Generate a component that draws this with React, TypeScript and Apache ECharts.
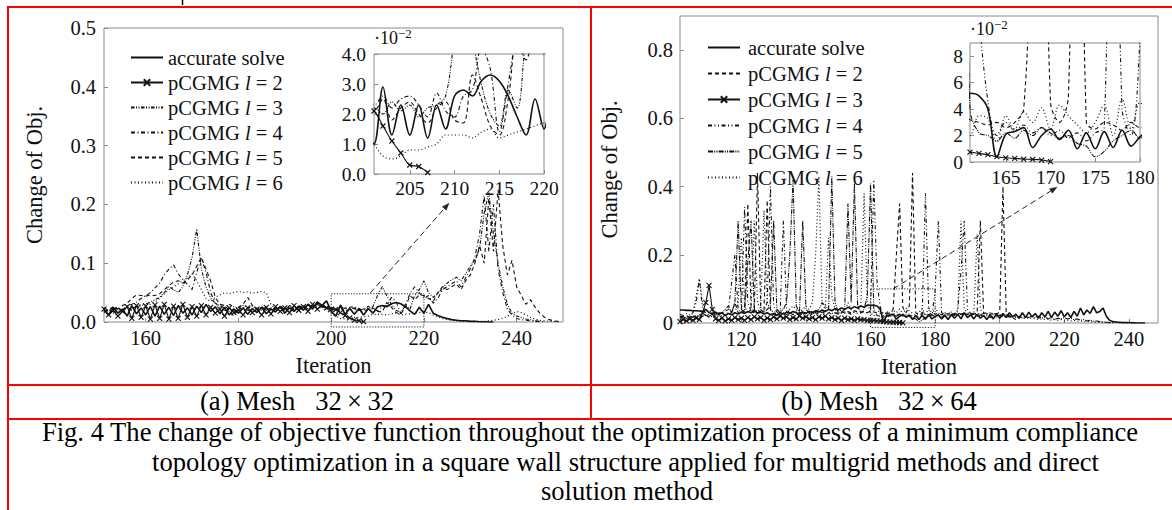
import React, { useEffect, useRef } from "react";
import * as echarts from "echarts";

const FONT = "Liberation Serif";
const INK = "#111";
const AXIS_GRAY = "#8a8a8a";
const RED = "#ff0000";

// ---------------- data ----------------
const SERIES_NAMES = [
  "accurate solve",
  "pCGMG l = 2",
  "pCGMG l = 3",
  "pCGMG l = 4",
  "pCGMG l = 5",
  "pCGMG l = 6",
];

// Panel (a) Mesh 32x32, iterations start at 151
const A_START = 151;
const A_ACC = [
  0.020, 0.012, 0.025, 0.015, 0.022, 0.010, 0.028, 0.014, 0.024, 0.012,
  0.026, 0.010, 0.027, 0.013, 0.025, 0.011, 0.028, 0.015, 0.024, 0.012,
  0.027, 0.016, 0.030, 0.018, 0.026, 0.014, 0.025, 0.012, 0.022, 0.015,
  0.024, 0.013, 0.023, 0.016, 0.025, 0.014, 0.022, 0.017, 0.026, 0.015,
  0.024, 0.018, 0.027, 0.020, 0.030, 0.022, 0.034, 0.028, 0.036, 0.018,
  0.010, 0.029, 0.013, 0.023, 0.013, 0.023, 0.012, 0.023, 0.015, 0.026,
  0.028, 0.026, 0.031, 0.033, 0.031, 0.026, 0.019, 0.013, 0.025, 0.015,
  0.030, 0.015, 0.011, 0.008, 0.006, 0.004, 0.003, 0.002, 0.002, 0.001,
  0.001, 0.0005, 0.0003, 0.0001, 0,
];
const A_L2 = [
  0.022, 0.012, 0.020, 0.010, 0.018, 0.026, 0.006, 0.028, 0.008, 0.027,
  0.005, 0.029, 0.006, 0.030, 0.005, 0.027, 0.006, 0.030, 0.008, 0.026,
  0.010, 0.028, 0.012, 0.025, 0.015, 0.022, 0.010, 0.024, 0.016, 0.020,
  0.012, 0.024, 0.016, 0.022, 0.012, 0.025, 0.014, 0.026, 0.018, 0.024,
  0.016, 0.028, 0.020, 0.026, 0.018, 0.030, 0.022, 0.028, 0.024, 0.022,
  0.021, 0.016, 0.011, 0.007, 0.003, 0.0025, 0.0005,
];
const A_L3 = [
  0.018, 0.020, 0.015, 0.022, 0.018, 0.025, 0.020, 0.026, 0.028, 0.030,
  0.034, 0.038, 0.042, 0.050, 0.060, 0.055, 0.050, 0.060, 0.080, 0.110,
  0.158, 0.090, 0.060, 0.040, 0.032, 0.028, 0.024, 0.030, 0.026, 0.024,
  0.028, 0.024, 0.027, 0.021, 0.025, 0.020, 0.024, 0.022, 0.026, 0.020,
  0.025, 0.022, 0.028, 0.024, 0.030, 0.026, 0.032, 0.028, 0.025, 0.021,
  0.022, 0.020, 0.024, 0.021, 0.023, 0.019, 0.022, 0.023, 0.026, 0.045,
  0.060, 0.045, 0.030, 0.020, 0.016, 0.028, 0.022, 0.045, 0.055, 0.070,
  0.050, 0.042, 0.048, 0.058, 0.066, 0.072, 0.076, 0.070, 0.082, 0.095,
  0.105, 0.125, 0.185, 0.220, 0.150, 0.100, 0.060, 0.030, 0.015, 0.010,
  0.008, 0.005, 0.004, 0.002, 0.001,
];
const A_L4 = [
  0.020, 0.018, 0.022, 0.025, 0.020, 0.028, 0.030, 0.034, 0.040, 0.045,
  0.050, 0.058, 0.066, 0.080, 0.090, 0.097, 0.082, 0.072, 0.064, 0.055,
  0.085, 0.108, 0.085, 0.050, 0.032, 0.025, 0.020, 0.018, 0.022, 0.015,
  0.025, 0.020, 0.018, 0.024, 0.020, 0.026, 0.022, 0.018, 0.025, 0.020,
  0.028, 0.024, 0.020, 0.026, 0.022, 0.028, 0.025, 0.030, 0.022, 0.024,
  0.023, 0.026, 0.022, 0.025, 0.026, 0.023, 0.019, 0.027, 0.021, 0.019,
  0.026, 0.028, 0.042, 0.035, 0.014, 0.030, 0.048, 0.060, 0.050, 0.040,
  0.045, 0.032, 0.040, 0.055, 0.060, 0.065, 0.070, 0.060, 0.075, 0.090,
  0.110, 0.150, 0.215, 0.120, 0.200, 0.090, 0.050, 0.022, 0.012, 0.006,
  0.004, 0.003, 0.002, 0.001, 0.001, 0,
];
const A_L5 = [
  0.024, 0.020, 0.026, 0.022, 0.028, 0.032, 0.040, 0.046, 0.045, 0.044,
  0.046, 0.045, 0.048, 0.055, 0.062, 0.068, 0.070, 0.066, 0.072, 0.080,
  0.095, 0.110, 0.090, 0.070, 0.042, 0.030, 0.028, 0.020, 0.010, 0.025,
  0.030, 0.042, 0.028, 0.022, 0.026, 0.020, 0.024, 0.021, 0.027, 0.022,
  0.026, 0.020, 0.024, 0.028, 0.022, 0.026, 0.030, 0.025, 0.028, 0.023,
  0.021, 0.025, 0.018, 0.022, 0.024, 0.020, 0.017, 0.022, 0.024, 0.018,
  0.017, 0.033, 0.025, 0.016, 0.013, 0.025, 0.045, 0.038, 0.046, 0.045,
  0.040, 0.035, 0.050, 0.060, 0.055, 0.060, 0.065, 0.055, 0.070, 0.080,
  0.100, 0.130, 0.100, 0.210, 0.120, 0.225, 0.130, 0.080, 0.105, 0.060,
  0.045, 0.030, 0.038, 0.025, 0.015, 0.008, 0.004, 0.002, 0.001,
];
const A_L6 = [
  0.016, 0.022, 0.018, 0.024, 0.020, 0.026, 0.022, 0.028, 0.030, 0.032,
  0.030, 0.034, 0.040, 0.048, 0.055, 0.060, 0.065, 0.070, 0.075, 0.082,
  0.070, 0.055, 0.040, 0.035, 0.042, 0.046, 0.050, 0.048, 0.050, 0.052,
  0.050, 0.051, 0.049, 0.050, 0.052, 0.050, 0.030, 0.022, 0.026, 0.020,
  0.024, 0.020, 0.026, 0.022, 0.028, 0.024, 0.030, 0.026, 0.020, 0.014,
  0.010, 0.006, 0.005, 0.006, 0.008, 0.008, 0.009, 0.010, 0.013, 0.013,
  0.013, 0.012, 0.014, 0.015, 0.012, 0.013, 0.014, 0.015, 0.016, 0.017,
  0.016, 0.012, 0.009, 0.006, 0.004, 0.003, 0.002, 0.001, 0.001, 0.001,
  0.001, 0.001, 0.001, 0.002, 0.003, 0.004, 0.006, 0.010, 0.014, 0.018,
  0.016, 0.012, 0.008, 0.005, 0.003, 0.002, 0.001, 0.001, 0.0005,
];

// Panel (b) Mesh 32x64, iterations start at 101
const B_START = 101;
const B_ACC = [
  0.038, 0.038, 0.037, 0.037, 0.036, 0.036, 0.035, 0.034, 0.040, 0.030,
  0.028, 0.032, 0.025, 0.030, 0.022, 0.028, 0.024, 0.030, 0.026, 0.032,
  0.028, 0.034, 0.030, 0.036, 0.028, 0.032, 0.026, 0.030, 0.024, 0.028,
  0.022, 0.030, 0.026, 0.032, 0.028, 0.034, 0.030, 0.026, 0.032, 0.028,
  0.034, 0.030, 0.036, 0.032, 0.038, 0.034, 0.040, 0.036, 0.042, 0.038,
  0.044, 0.040, 0.046, 0.042, 0.048, 0.044, 0.050, 0.046, 0.052, 0.052,
  0.052, 0.050, 0.040, 0.004, 0.021, 0.023, 0.026, 0.011, 0.020, 0.025,
  0.017, 0.024, 0.010, 0.022, 0.010, 0.023, 0.011, 0.024, 0.012, 0.019,
  0.024, 0.012, 0.022, 0.010, 0.024, 0.014, 0.026, 0.012, 0.030, 0.016,
  0.024, 0.012, 0.026, 0.014, 0.022, 0.010, 0.024, 0.012, 0.026, 0.014,
  0.028, 0.016, 0.030, 0.018, 0.026, 0.014, 0.030, 0.016, 0.032, 0.018,
  0.028, 0.014, 0.030, 0.018, 0.034, 0.016, 0.032, 0.020, 0.036, 0.018,
  0.030, 0.016, 0.034, 0.020, 0.044, 0.024, 0.038, 0.028, 0.048, 0.030,
  0.034, 0.044, 0.020, 0.008, 0.004, 0.003, 0.002, 0.001, 0.001, 0.001,
  0.0005, 0.0003, 0.0002, 0.0001, 0,
];
const B_L2 = [
  0.020, 0.018, 0.022, 0.016, 0.020, 0.018, 0.024, 0.020, 0.022, 0.018,
  0.024, 0.020, 0.030, 0.025, 0.022, 0.028, 0.030, 0.060, 0.030, 0.025,
  0.040, 0.350, 0.050, 0.030, 0.440, 0.040, 0.030, 0.360, 0.040, 0.025,
  0.030, 0.022, 0.028, 0.025, 0.030, 0.024, 0.028, 0.022, 0.030, 0.026,
  0.028, 0.024, 0.030, 0.026, 0.032, 0.028, 0.030, 0.026, 0.030, 0.028,
  0.032, 0.030, 0.034, 0.030, 0.036, 0.032, 0.030, 0.034, 0.030, 0.036,
  0.032, 0.030, 0.028, 0.030, 0.026, 0.030, 0.040, 0.200, 0.350, 0.045,
  0.030, 0.050, 0.440, 0.030, 0.025, 0.030, 0.028, 0.024, 0.030, 0.026,
  0.028, 0.024, 0.030, 0.026, 0.028, 0.024, 0.030, 0.026, 0.028, 0.024,
  0.030, 0.026, 0.030, 0.300, 0.030, 0.028, 0.024, 0.030, 0.026, 0.032,
  0.400, 0.030, 0.020, 0.015, 0.010,
];
const B_L3 = [
  0.004, 0.010, 0.006, 0.012, 0.008, 0.014, 0.010, 0.030, 0.060, 0.110,
  0.040, 0.012, 0.008, 0.014, 0.006, 0.012, 0.008, 0.016, 0.010, 0.014,
  0.008, 0.016, 0.010, 0.018, 0.012, 0.016, 0.008, 0.014, 0.010, 0.018,
  0.012, 0.020, 0.014, 0.018, 0.010, 0.016, 0.012, 0.020, 0.014, 0.018,
  0.012, 0.016, 0.010, 0.018, 0.014, 0.020, 0.012, 0.016, 0.010, 0.014,
  0.008, 0.014, 0.010, 0.012, 0.008, 0.012, 0.010, 0.010, 0.008, 0.008,
  0.0075, 0.0065, 0.0055, 0.0040, 0.0032, 0.0027, 0.0022, 0.0020, 0.0015, 0.0003,
];
const B_L4 = [
  0.025, 0.022, 0.028, 0.024, 0.030, 0.060, 0.130, 0.040, 0.028, 0.024,
  0.030, 0.026, 0.032, 0.028, 0.034, 0.040, 0.120, 0.200, 0.040, 0.030,
  0.340, 0.060, 0.035, 0.030, 0.040, 0.030, 0.035, 0.060, 0.400, 0.050,
  0.032, 0.028, 0.300, 0.040, 0.030, 0.026, 0.032, 0.028, 0.034, 0.030,
  0.036, 0.032, 0.028, 0.034, 0.030, 0.036, 0.032, 0.028, 0.030, 0.026,
  0.032, 0.028, 0.030, 0.026, 0.032, 0.028, 0.030, 0.034, 0.030, 0.032,
  0.420, 0.120, 0.046, 0.020, 0.030, 0.024, 0.028, 0.022, 0.026, 0.020,
  0.024, 0.018, 0.022, 0.016, 0.022, 0.026, 0.380, 0.040, 0.020, 0.095,
  0.300, 0.030, 0.026, 0.030, 0.028, 0.026, 0.040, 0.150, 0.300, 0.040,
  0.028, 0.026, 0.030, 0.024, 0.028, 0.026, 0.030, 0.026, 0.028, 0.024,
  0.022, 0.020, 0.018, 0.015, 0.012,
];
const B_L5 = [
  0.015, 0.018, 0.014, 0.020, 0.016, 0.022, 0.018, 0.020, 0.024, 0.020,
  0.026, 0.022, 0.028, 0.030, 0.040, 0.050, 0.030, 0.060, 0.300, 0.040,
  0.030, 0.180, 0.300, 0.040, 0.030, 0.035, 0.030, 0.040, 0.050, 0.300,
  0.040, 0.030, 0.040, 0.060, 0.200, 0.420, 0.050, 0.030, 0.300, 0.040,
  0.030, 0.026, 0.032, 0.040, 0.060, 0.050, 0.040, 0.430, 0.060, 0.030,
  0.028, 0.040, 0.350, 0.060, 0.410, 0.050, 0.030, 0.040, 0.080, 0.410,
  0.040, 0.022, 0.020, 0.016, 0.022, 0.018, 0.024, 0.020, 0.026, 0.022,
  0.018, 0.020, 0.014, 0.012, 0.004, 0.008, 0.016, 0.020, 0.024, 0.018,
  0.022, 0.018, 0.024, 0.020, 0.026, 0.022, 0.028, 0.024, 0.030, 0.026,
  0.022, 0.026, 0.020, 0.024, 0.018, 0.022, 0.016, 0.020, 0.018, 0.022,
  0.020, 0.024, 0.018, 0.022, 0.016, 0.020, 0.014, 0.018, 0.016, 0.020,
  0.016, 0.020, 0.014, 0.018, 0.012, 0.016, 0.010, 0.014, 0.012, 0.016,
  0.012, 0.014, 0.010, 0.012, 0.008, 0.010, 0.006, 0.008, 0.005, 0.006,
  0.004, 0.003, 0.002, 0.001, 0,
];
const B_L6 = [
  0.010, 0.014, 0.012, 0.016, 0.030, 0.080, 0.130, 0.060, 0.020, 0.016,
  0.020, 0.018, 0.022, 0.020, 0.024, 0.030, 0.040, 0.030, 0.060, 0.250,
  0.050, 0.030, 0.040, 0.300, 0.060, 0.040, 0.330, 0.060, 0.040, 0.030,
  0.036, 0.040, 0.030, 0.035, 0.040, 0.050, 0.040, 0.030, 0.040, 0.050,
  0.040, 0.060, 0.200, 0.430, 0.060, 0.040, 0.250, 0.080, 0.040, 0.030,
  0.040, 0.030, 0.060, 0.040, 0.030, 0.040, 0.050, 0.380, 0.060, 0.030,
  0.020, 0.035, 0.033, 0.015, 0.035, 0.025, 0.038, 0.030, 0.041, 0.025,
  0.043, 0.035, 0.028, 0.022, 0.030, 0.043, 0.020, 0.048, 0.025, 0.045,
  0.030, 0.024, 0.030, 0.026, 0.032, 0.028, 0.034, 0.300, 0.040, 0.030,
  0.026, 0.030, 0.260, 0.040, 0.030, 0.026, 0.030, 0.024, 0.028, 0.022,
  0.020, 0.018, 0.022, 0.016, 0.020, 0.014, 0.018, 0.012, 0.016, 0.012,
  0.014, 0.010, 0.012, 0.010, 0.012, 0.008, 0.010, 0.008, 0.010, 0.006,
  0.008, 0.006, 0.008, 0.005, 0.006, 0.004, 0.005, 0.003, 0.004, 0.002,
  0.003, 0.002, 0.002, 0.001, 0.001, 0.001, 0.0005, 0.0005, 0.0002, 0,
];

// ticks
const A_XTICKS = [160, 180, 200, 220, 240];
const A_YTICKS = [0, 0.1, 0.2, 0.3, 0.4, 0.5];
const A_INSET_XTICKS = [205, 210, 215, 220];
const A_INSET_YTICKS = [0, 0.01, 0.02, 0.03, 0.04];
const B_XTICKS = [120, 140, 160, 180, 200, 220, 240];
const B_YTICKS = [0, 0.2, 0.4, 0.6, 0.8];
const B_INSET_XTICKS = [165, 170, 175, 180];
const B_INSET_YTICKS = [0, 0.02, 0.04, 0.06, 0.08];

// zoom boxes and arrows [x0, y0, x1, y1] in data units
const A_ZOOM_BOX = [200, -0.0085, 220, 0.048];
const A_ARROW = [208.4, 0.049, 225.4, 0.202];
const B_ZOOM_BOX = [160, -0.013, 180, 0.1];
const B_ARROW = [167, 0.1, 217.7, 0.398];

// captions
const SUBCAPTION_A = "(a) Mesh   32\u2009\u00d7\u200932";
const SUBCAPTION_B = "(b) Mesh   32\u2009\u00d7\u200964";
const CAPTION_LINES = [
  "Fig. 4 The change of objective function throughout the optimization process of a minimum compliance",
  "topology optimization in a square wall structure applied for multigrid methods and direct",
  "solution method",
];

// ---------------- styles ----------------
type LineKind = { dash: "solid" | number[]; width: number; marker?: boolean };
const A_STYLES: LineKind[] = [
  { dash: "solid", width: 1.6 },
  { dash: "solid", width: 1.1, marker: true },
  { dash: [3.5, 1.5, 1, 1.5, 1, 1.5], width: 1.1 },
  { dash: [4, 2.5, 1, 2.5], width: 1.1 },
  { dash: [4, 3], width: 1.1 },
  { dash: [1, 2.5], width: 1.2 },
];
const B_STYLES: LineKind[] = [
  { dash: "solid", width: 1.6 },
  { dash: [4, 3], width: 1.1 },
  { dash: "solid", width: 1.1, marker: true },
  { dash: [4, 2.5, 1, 2.5, 1, 2.5], width: 1.1 },
  { dash: [5, 1.2, 1, 1.2, 1, 1.2], width: 1.1 },
  { dash: [1, 2.5], width: 1.2 },
];

const X_MARK = "path://M0,0L10,10M0,10L10,0";

function makeLine(name: string, start: number, values: number[], st: LineKind, idx: number, smooth: number | boolean) {
  return {
    type: "line",
    name,
    xAxisIndex: idx,
    yAxisIndex: idx,
    data: values.map((v, i) => [start + i, v]),
    symbol: st.marker ? X_MARK : "none",
    symbolSize: 5,
    showSymbol: !!st.marker,
    smooth,
    lineStyle: { color: INK, width: st.width, type: st.dash },
    itemStyle: { color: INK, borderColor: INK, borderWidth: 1.1 },
    emphasis: { disabled: true },
    silent: true,
    clip: true,
  };
}

function boxSeries(box: number[]) {
  return {
    type: "custom",
    xAxisIndex: 0,
    yAxisIndex: 0,
    clip: false,
    silent: true,
    z: 4,
    dimensions: ["x0", "y0", "x1", "y1"],
    encode: { x: [0, 2], y: [1, 3] },
    data: [box],
    renderItem: (_p: any, api: any) => {
      const a = api.coord([api.value(0), api.value(1)]);
      const b = api.coord([api.value(2), api.value(3)]);
      return {
        type: "rect",
        shape: {
          x: Math.min(a[0], b[0]),
          y: Math.min(a[1], b[1]),
          width: Math.abs(b[0] - a[0]),
          height: Math.abs(b[1] - a[1]),
        },
        style: { fill: "none", stroke: "#222", lineWidth: 1, lineDash: [1.2, 1.6] },
      };
    },
  };
}

function arrowSeries(arrow: number[]) {
  return {
    type: "custom",
    xAxisIndex: 0,
    yAxisIndex: 0,
    clip: false,
    silent: true,
    z: 4,
    dimensions: ["x0", "y0", "x1", "y1"],
    encode: { x: [0, 2], y: [1, 3] },
    data: [arrow],
    renderItem: (_p: any, api: any) => {
      const p0 = api.coord([api.value(0), api.value(1)]);
      const p1 = api.coord([api.value(2), api.value(3)]);
      const ang = Math.atan2(p1[1] - p0[1], p1[0] - p0[0]);
      const c = Math.cos(ang);
      const s = Math.sin(ang);
      const L = 7;
      const H = 2.6;
      const base = [p1[0] - L * c, p1[1] - L * s];
      const left = [base[0] + H * s, base[1] - H * c];
      const right = [base[0] - H * s, base[1] + H * c];
      return {
        type: "group",
        children: [
          {
            type: "line",
            shape: { x1: p0[0], y1: p0[1], x2: base[0], y2: base[1] },
            style: { stroke: "#222", lineWidth: 1, lineDash: [6, 3.5] },
          },
          {
            type: "polygon",
            shape: { points: [p1, left, right] },
            style: { fill: "#222", stroke: "#222", lineWidth: 0.5 },
          },
        ],
      };
    },
  };
}

type PanelCfg = {
  start: number;
  data: number[][];
  styles: LineKind[];
  main: any;
  inset: any;
  legend: any;
  yNameGap: number;
  zoomBox: number[];
  arrow: number[];
};

function buildPanel(cfg: PanelCfg) {
  const m = cfg.main;
  const ins = cfg.inset;
  const tick = (vals: number[] | undefined) => ({
    show: true,
    inside: true,
    length: 4,
    customValues: vals,
    lineStyle: { color: AXIS_GRAY, width: 1 },
  });
  const grid = [
    {
      left: m.left, top: m.top, width: m.width, height: m.height,
      show: true, borderColor: AXIS_GRAY, borderWidth: 1, backgroundColor: "transparent",
      containLabel: false, outerBoundsMode: "none",
    },
    {
      left: ins.left, top: ins.top, width: ins.width, height: ins.height,
      show: true, borderColor: AXIS_GRAY, borderWidth: 1, backgroundColor: "#fff",
      containLabel: false, outerBoundsMode: "none",
    },
  ];
  const xAxis = [
    {
      type: "value", gridIndex: 0, min: m.xmin, max: m.xmax,
      axisLine: { show: false }, splitLine: { show: false },
      axisTick: tick(m.xticks),
      axisLabel: { customValues: m.xticks, fontSize: 20.5, fontFamily: FONT, color: INK, margin: 5 },
      name: "Iteration", nameLocation: "middle", nameGap: 32,
      nameTextStyle: { fontSize: 22.5, fontFamily: FONT, color: INK },
    },
    {
      type: "value", gridIndex: 1, min: ins.xmin, max: ins.xmax,
      axisLine: { show: false }, splitLine: { show: false },
      axisTick: tick(ins.xticks),
      axisLabel: { customValues: ins.xticks, fontSize: 19.5, fontFamily: FONT, color: INK, margin: ins.xMargin },
    },
  ];
  const yAxis = [
    {
      type: "value", gridIndex: 0, min: 0, max: m.ymax,
      axisLine: { show: false }, splitLine: { show: false },
      axisTick: tick(m.yticks),
      axisLabel: {
        customValues: m.yticks, fontSize: 20.5, fontFamily: FONT, color: INK, margin: m.yMargin,
        formatter: m.yfmt,
      },
      name: "Change of Obj.", nameLocation: "middle", nameGap: cfg.yNameGap,
      nameTextStyle: { fontSize: 22.5, fontFamily: FONT, color: INK },
    },
    {
      type: "value", gridIndex: 1, min: 0, max: ins.ymax,
      axisLine: { show: false }, splitLine: { show: false },
      axisTick: tick(ins.yticks),
      axisLabel: {
        customValues: ins.yticks, fontSize: 19.5, fontFamily: FONT, color: INK, margin: ins.yMargin,
        formatter: ins.yfmt,
      },
      name: "{b|\u00b710}{s|\u22122}", nameLocation: "end", nameGap: ins.nameGap,
      nameTextStyle: {
        align: "left", verticalAlign: "bottom", color: INK, fontFamily: FONT,
        rich: {
          b: { fontSize: 18, fontFamily: FONT, color: INK, lineHeight: 20, verticalAlign: "bottom" },
          s: { fontSize: 13, fontFamily: FONT, color: INK, lineHeight: 20, verticalAlign: "top" },
        },
      },
    },
  ];
  const series: any[] = [];
  cfg.data.forEach((vals, i) => series.push(makeLine(SERIES_NAMES[i], cfg.start, vals, cfg.styles[i], 0, false)));
  cfg.data.forEach((vals, i) => series.push(makeLine(SERIES_NAMES[i], cfg.start, vals, cfg.styles[i], 1, 0.35)));
  series.push(boxSeries(cfg.zoomBox));
  series.push(arrowSeries(cfg.arrow));
  const legend = {
    orient: "vertical",
    left: cfg.legend.left,
    top: cfg.legend.top,
    itemWidth: 32,
    itemHeight: 8,
    itemGap: cfg.legend.gap,
    selectedMode: false,
    data: SERIES_NAMES.map((n, i) =>
      cfg.styles[i].marker
        ? { name: n }
        : { name: n, itemStyle: { opacity: 0, color: "transparent", borderColor: "transparent", borderWidth: 0 } }
    ),
    formatter: (n: string) => n.replace(" l = ", " {i|l} = "),
    textStyle: {
      fontFamily: FONT, fontSize: 20.5, color: INK, lineHeight: 20,
      padding: [0, 0, 0, cfg.legend.pad],
      rich: { i: { fontStyle: "italic", fontFamily: FONT, fontSize: 20.5, color: INK, lineHeight: 20 } },
    },
  };
  return { grid, xAxis, yAxis, series, legend };
}

const panelA = buildPanel({
  start: A_START,
  data: [A_ACC, A_L2, A_L3, A_L4, A_L5, A_L6],
  styles: A_STYLES,
  main: {
    left: 104, top: 28, width: 459, height: 294, xmin: 151, xmax: 250, ymax: 0.5,
    xticks: A_XTICKS, yticks: A_YTICKS, yMargin: 8,
    yfmt: (v: number) => v.toFixed(1),
  },
  inset: {
    left: 374, top: 54, width: 170, height: 120, xmin: 201, xmax: 220, ymax: 0.04,
    xticks: A_INSET_XTICKS, yticks: A_INSET_YTICKS, yMargin: 8, xMargin: 4, nameGap: 7,
    yfmt: (v: number) => (v * 100).toFixed(1),
  },
  legend: { left: 125, top: 42, gap: 4, pad: 0 },
  yNameGap: 58,
  zoomBox: A_ZOOM_BOX,
  arrow: A_ARROW,
});

const panelB = buildPanel({
  start: B_START,
  data: [B_ACC, B_L2, B_L3, B_L4, B_L5, B_L6],
  styles: B_STYLES,
  main: {
    left: 680, top: 16, width: 478, height: 307, xmin: 101, xmax: 249, ymax: 0.9,
    xticks: B_XTICKS, yticks: B_YTICKS, yMargin: 7,
    yfmt: (v: number) => (v === 0 ? "0" : v.toFixed(1)),
  },
  inset: {
    left: 970, top: 43, width: 170, height: 119, xmin: 161, xmax: 180, ymax: 0.09,
    xticks: B_INSET_XTICKS, yticks: B_INSET_YTICKS, yMargin: 7, xMargin: 5, nameGap: 5,
    yfmt: (v: number) => String(Math.round(v * 100)),
  },
  legend: { left: 702, top: 32, gap: 5, pad: 3 },
  yNameGap: 59,
  zoomBox: B_ZOOM_BOX,
  arrow: B_ARROW,
});

function redLine(x1: number, y1: number, x2: number, y2: number) {
  return { type: "line", silent: true, shape: { x1, y1, x2, y2 }, style: { stroke: RED, lineWidth: 2 } };
}
function captionText(text: string, x: number, y: number) {
  return {
    type: "text",
    silent: true,
    x,
    y,
    style: {
      text,
      fill: "#000",
      fontSize: 26.6,
      fontFamily: FONT,
      align: "center",
      verticalAlign: "middle",
      textAlign: "center",
      textVerticalAlign: "middle",
    },
  };
}

const optionA = {
  animation: false,
  textStyle: { fontFamily: FONT, color: INK },
  ...panelA,
  graphic: [
    redLine(7, 7, 1172, 7),
    redLine(8, 6, 8, 510),
    redLine(591, 6, 591, 419),
    redLine(8, 385, 1172, 385),
    redLine(8, 419, 1172, 419),
    { type: "line", silent: true, shape: { x1: 182.5, y1: 0, x2: 182.5, y2: 5 }, style: { stroke: "#000", lineWidth: 1.5 } },
    captionText(SUBCAPTION_A, 297, 401),
    captionText(SUBCAPTION_B, 879, 401),
    captionText(CAPTION_LINES[0], 590, 432),
    captionText(CAPTION_LINES[1], 625.5, 461.5),
    captionText(CAPTION_LINES[2], 627, 491),
  ],
};

const optionB = {
  animation: false,
  textStyle: { fontFamily: FONT, color: INK },
  ...panelB,
};

function ChartLayer({ option }: { option: any }) {
  const ref = useRef<HTMLDivElement>(null);
  useEffect(() => {
    if (!ref.current) return;
    const chart = echarts.init(ref.current, null, { renderer: "svg", width: 1172, height: 510 });
    chart.setOption(option);
    return () => chart.dispose();
  }, [option]);
  return <div ref={ref} style={{ position: "absolute", left: 0, top: 0, width: 1172, height: 510 }} />;
}

export default function App() {
  return (
    <div
      style={{
        position: "fixed",
        left: 0,
        top: 0,
        width: 1172,
        height: 510,
        background: "#fff",
        overflow: "hidden",
      }}
    >
      <ChartLayer option={optionA} />
      <ChartLayer option={optionB} />
    </div>
  );
}
